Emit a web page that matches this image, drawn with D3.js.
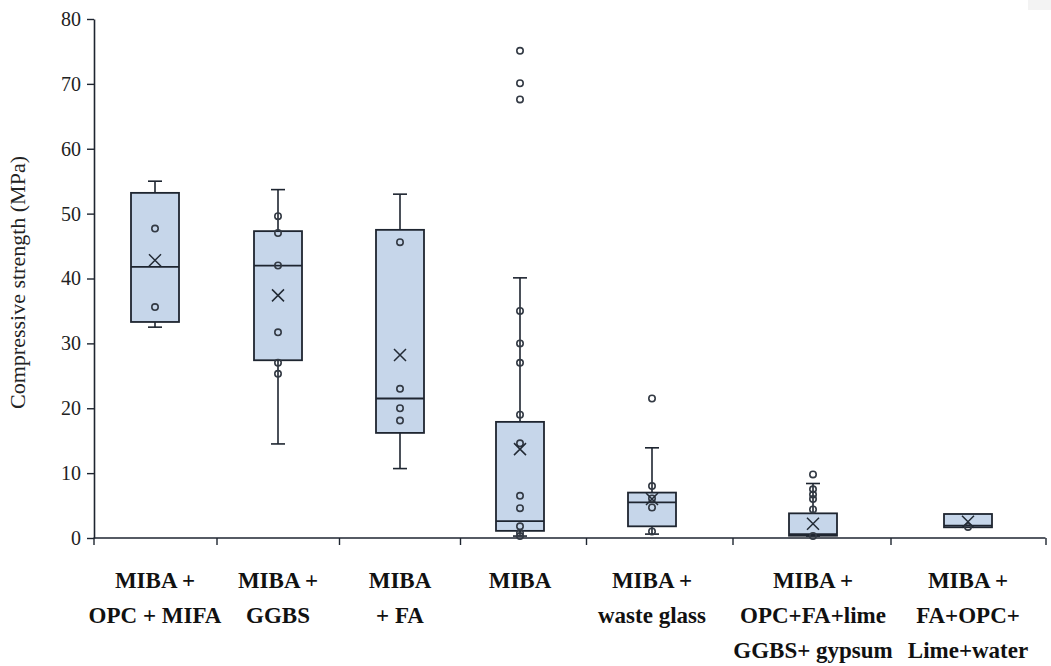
<!DOCTYPE html>
<html>
<head>
<meta charset="utf-8">
<script src="https://cdn.jsdelivr.net/npm/d3@7"></script>
<style>
  html, body { margin: 0; padding: 0; background: #ffffff; }
  svg { display: block; }
</style>
</head>
<body>
<div id="chart"></div>
<script>
// ---------- data ----------
const categories = [
  ["MIBA +", "OPC + MIFA"],
  ["MIBA +", "GGBS"],
  ["MIBA", "+ FA"],
  ["MIBA"],
  ["MIBA +", "waste glass"],
  ["MIBA +", "OPC+FA+lime", "GGBS+ gypsum"],
  ["MIBA +", "FA+OPC+", "Lime+water"]
];
const whiskerLow  = [32.5, 14.5, 10.7, 0.3, 0.6, 0.3, 1.65];
const q1Values    = [33.3, 27.4, 16.2, 1.1, 1.8, 0.35, 1.65];
const medians     = [41.8, 42.0, 21.5, 2.6, 5.5, 0.6, 1.9];
const q3Values    = [53.2, 47.3, 47.5, 17.9, 7.0, 3.8, 3.7];
const whiskerHigh = [55.0, 53.7, 53.0, 40.1, 13.9, 8.4, 3.7];
const means       = [42.8, 37.4, 28.2, 13.7, 6.0, 2.2, 2.5];
const points = [
  [47.7, 35.6],
  [49.6, 47.0, 42.0, 31.7, 27.0, 25.3],
  [45.6, 23.0, 20.0, 18.1],
  [75.1, 70.1, 67.6, 35.0, 30.0, 27.0, 19.0, 14.6, 6.5, 4.6, 1.8, 0.8, 0.3],
  [21.5, 8.0, 6.1, 4.7, 1.0],
  [9.8, 7.5, 6.7, 6.0, 4.4, 0.3],
  [1.7]
];
const yTicks = [0, 10, 20, 30, 40, 50, 60, 70, 80];
const yLabel = "Compressive strength (MPa)";

// ---------- layout ----------
const W = 1051, H = 666;
const categoryCenters = [155, 278, 400, 520, 652, 813, 968];
const boxWidth = 48, capHalf = 7;

const svg = d3.select("#chart").append("svg")
  .attr("width", W).attr("height", H)
  .style("background", "#fff");

svg.append("rect").attr("x", 1028).attr("y", 0).attr("width", 23).attr("height", 10)
  .attr("fill", "#f3f3f3");

const y = d3.scaleLinear().domain([0, 80]).range([538, 19]);
const x = d3.scaleLinear().domain(d3.range(categories.length)).range(categoryCenters);

const serif = "'Liberation Serif', 'Times New Roman', serif";
const ink = "#1e2530";

// y axis
const yAxis = svg.append("g").attr("transform", "translate(94,0)")
  .call(d3.axisLeft(y).tickValues(yTicks).tickSize(7).tickPadding(6).tickSizeOuter(0));
yAxis.select(".domain").attr("stroke", ink).attr("stroke-width", 1.6);
yAxis.selectAll(".tick line").attr("stroke", ink).attr("stroke-width", 1.4);
yAxis.selectAll(".tick text").attr("font-family", serif).attr("font-size", 20).attr("fill", "#222");

// x axis
const xTickVals = d3.range(categories.length + 1).map(i => i - 0.5);
const xAxis = svg.append("g").attr("transform", `translate(0,${y(0)})`)
  .call(d3.axisBottom(x).tickValues(xTickVals).tickFormat("").tickSize(7).tickSizeOuter(0));
xAxis.select(".domain").remove();
xAxis.append("line")
  .attr("x1", x(-0.5)).attr("x2", x(categories.length - 0.5))
  .attr("y1", 0).attr("y2", 0)
  .attr("stroke", ink).attr("stroke-width", 1.6);
xAxis.selectAll(".tick line").attr("stroke", ink).attr("stroke-width", 1.4);

// y label
svg.append("text")
  .attr("transform", `translate(20,${(y(0) + y(80)) / 2 + 4}) rotate(-90)`)
  .attr("text-anchor", "middle")
  .attr("dominant-baseline", "middle")
  .attr("font-family", serif).attr("font-size", 22).attr("fill", "#222")
  .text(yLabel);

// boxes
const g = svg.append("g");
categories.forEach((cat, i) => {
  const cx = x(i);
  const grp = g.append("g");
  if (whiskerHigh[i] > q3Values[i]) {
    grp.append("line").attr("x1", cx).attr("x2", cx)
      .attr("y1", y(q3Values[i])).attr("y2", y(whiskerHigh[i]))
      .attr("stroke", ink).attr("stroke-width", 1.6);
    grp.append("line").attr("x1", cx - capHalf).attr("x2", cx + capHalf)
      .attr("y1", y(whiskerHigh[i])).attr("y2", y(whiskerHigh[i]))
      .attr("stroke", ink).attr("stroke-width", 1.6);
  }
  if (whiskerLow[i] < q1Values[i]) {
    grp.append("line").attr("x1", cx).attr("x2", cx)
      .attr("y1", y(q1Values[i])).attr("y2", y(whiskerLow[i]))
      .attr("stroke", ink).attr("stroke-width", 1.6);
    grp.append("line").attr("x1", cx - capHalf).attr("x2", cx + capHalf)
      .attr("y1", y(whiskerLow[i])).attr("y2", y(whiskerLow[i]))
      .attr("stroke", ink).attr("stroke-width", 1.6);
  }
  grp.append("rect")
    .attr("x", cx - boxWidth / 2).attr("width", boxWidth)
    .attr("y", y(q3Values[i])).attr("height", y(q1Values[i]) - y(q3Values[i]))
    .attr("fill", "#c6d6ea").attr("stroke", ink).attr("stroke-width", 1.8);
  grp.append("line").attr("x1", cx - boxWidth / 2).attr("x2", cx + boxWidth / 2)
    .attr("y1", y(medians[i])).attr("y2", y(medians[i]))
    .attr("stroke", ink).attr("stroke-width", 1.8);
  grp.selectAll("circle.pt").data(points[i]).enter().append("circle")
    .attr("class", "pt")
    .attr("cx", cx).attr("cy", d => y(d)).attr("r", 3.2)
    .attr("fill", "none").attr("stroke", "#333a44").attr("stroke-width", 1.6);
  const m = 6, my = y(means[i]);
  grp.append("path")
    .attr("d", `M${cx - m},${my - m}L${cx + m},${my + m}M${cx - m},${my + m}L${cx + m},${my - m}`)
    .attr("stroke", "#222a35").attr("stroke-width", 1.5).attr("fill", "none");
});

// category labels
const labels = svg.append("g");
categories.forEach((lines, i) => {
  const t = labels.append("text")
    .attr("x", x(i)).attr("y", 588)
    .attr("text-anchor", "middle")
    .attr("font-family", serif).attr("font-weight", "bold")
    .attr("font-size", 23).attr("fill", "#111");
  lines.forEach((ln, k) => {
    t.append("tspan").attr("x", x(i)).attr("dy", k === 0 ? 0 : 35).text(ln);
  });
});
</script>
</body>
</html>
